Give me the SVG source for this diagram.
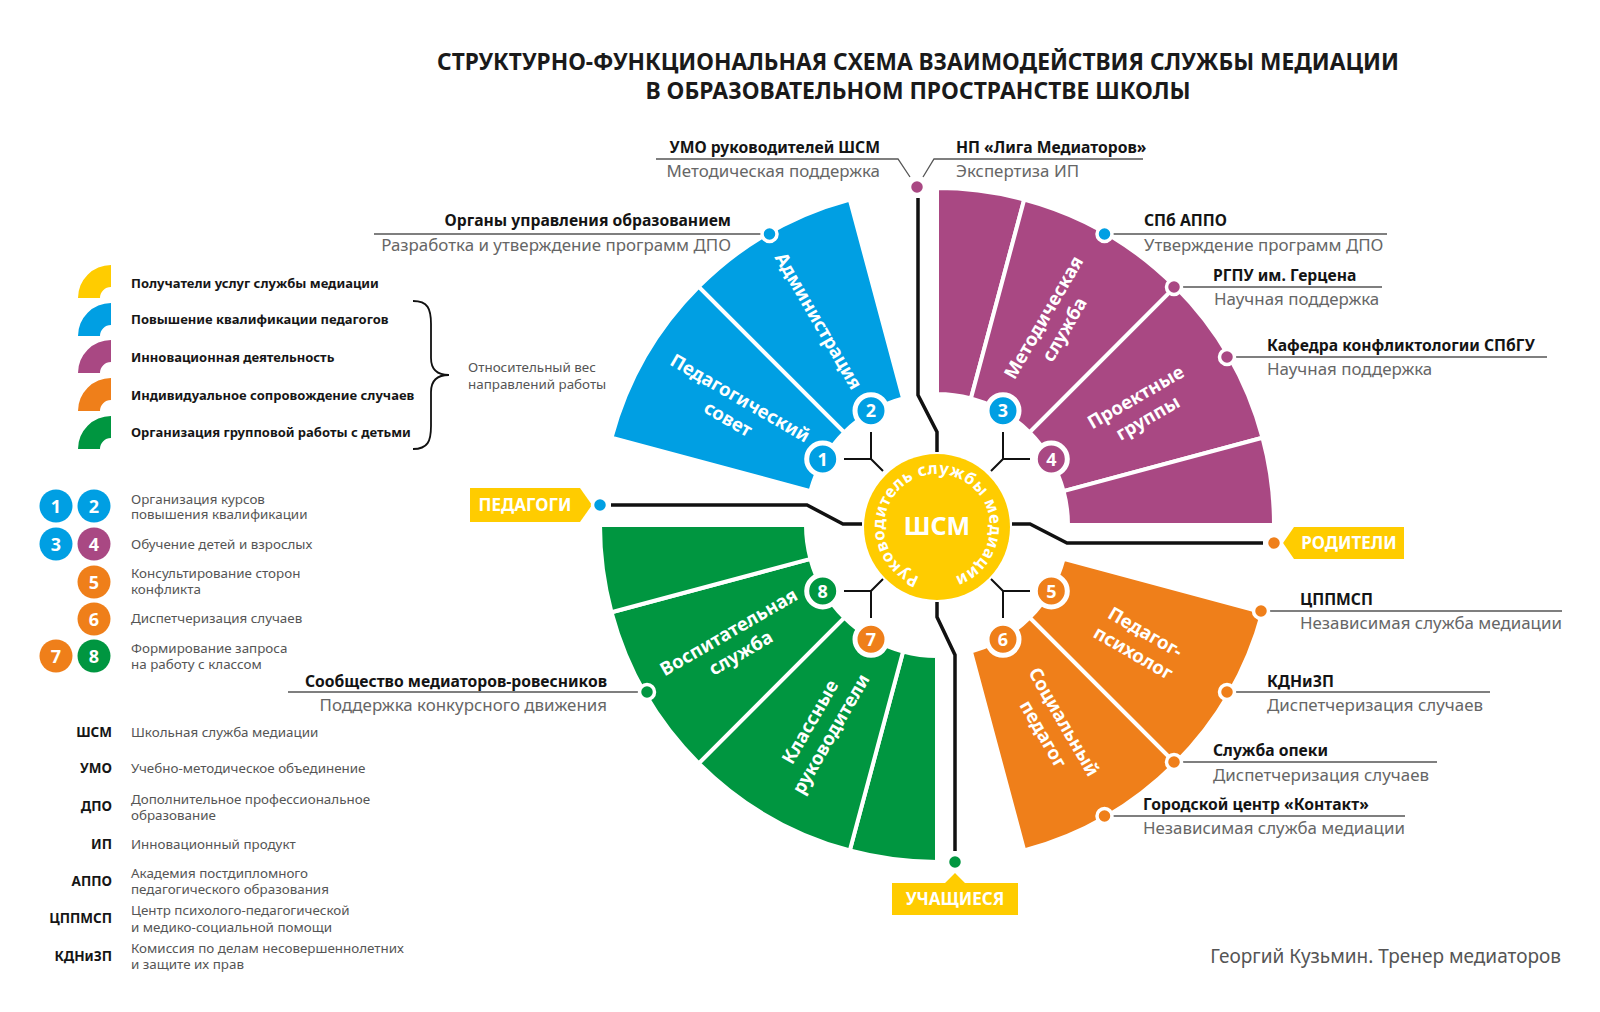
<svg xmlns="http://www.w3.org/2000/svg" xmlns:xlink="http://www.w3.org/1999/xlink" width="1600" height="1012" viewBox="0 0 1600 1012">
<defs>
<style>
text{font-family:"Noto Sans","DejaVu Sans",sans-serif}
.ttl{font-size:23px;font-weight:700;fill:#1a1a1a;text-anchor:middle}
.nm{font-size:15.7px;font-weight:700;fill:#141414}
.ds{font-size:16.9px;font-weight:400;fill:#666}
.r{text-anchor:end}
.lg{font-size:13px;font-weight:700;fill:#161616}
.lt{font-size:13.4px;font-weight:400;fill:#555}
.ab{font-size:13.5px;font-weight:700;fill:#161616;text-anchor:end}
.sl{font-size:18.5px;font-weight:700;fill:#fff;text-anchor:middle}
.tag{font-size:17px;font-weight:700;fill:#fff;text-anchor:middle}
.bn{font-size:18px;font-weight:700;fill:#fff;text-anchor:middle}
.ln{stroke:#555;stroke-width:1.3;fill:none}
.cn{stroke:#111;stroke-width:3.5;fill:none}
.yc{stroke:#111;stroke-width:2;fill:none}
.sec{stroke:#fff;stroke-width:4;stroke-linejoin:round}
.B{fill:#009FE3}.P{fill:#A94883}.O{fill:#EF7F1A}.G{fill:#009640}.Y{fill:#FFCC00}
.dot{stroke:#fff;stroke-width:3.5}
.bdg{stroke:#fff;stroke-width:5}
</style>
<path id="ring" d="M 923.28,578.19 A 53 53 0 1 1 950.72,578.19"/>
</defs>
<rect width="1600" height="1012" fill="#fff"/>

<g id="title">
<text class="ttl" x="918" y="70" textLength="962" lengthAdjust="spacingAndGlyphs">СТРУКТУРНО-ФУНКЦИОНАЛЬНАЯ СХЕМА ВЗАИМОДЕЙСТВИЯ СЛУЖБЫ МЕДИАЦИИ</text>
<text class="ttl" x="918" y="99" textLength="545" lengthAdjust="spacingAndGlyphs">В ОБРАЗОВАТЕЛЬНОМ ПРОСТРАНСТВЕ ШКОЛЫ</text>
</g>

<!-- Sectors -->
<g id="sector-pedsovet">
<path class="sec B" d="M 810.46,491.09 L 611.48,437.78 A 337 337 0 0 1 698.71,286.71 L 844.37,432.37 A 131 131 0 0 0 810.46,491.09 Z"/>
<g transform="translate(734.4,408) rotate(30)"><text class="sl" y="-5">Педагогический</text><text class="sl" y="19">совет</text></g>
</g>
<g id="sector-admin">
<path class="sec B" d="M 844.37,432.37 L 698.71,286.71 A 337 337 0 0 1 849.78,199.48 L 903.09,398.46 A 131 131 0 0 0 844.37,432.37 Z"/>
<g transform="translate(819,320.6) rotate(60)"><text class="sl" y="7">Администрация</text></g>
</g>
<g id="sector-purple-1">
<path class="sec P" d="M 937,394 L 937,188 A 337 337 0 0 1 1024.22,199.48 L 970.91,398.46 A 131 131 0 0 0 937,394 Z"/>
</g>
<g id="sector-metod">
<path class="sec P" d="M 970.91,398.46 L 1024.22,199.48 A 337 337 0 0 1 1175.29,286.71 L 1029.63,432.37 A 131 131 0 0 0 970.91,398.46 Z"/>
<g transform="translate(1053.5,323.2) rotate(-60)"><text class="sl" y="-5">Методическая</text><text class="sl" y="19">служба</text></g>
</g>
<g id="sector-project">
<path class="sec P" d="M 1029.63,432.37 L 1175.29,286.71 A 337 337 0 0 1 1262.52,437.78 L 1063.54,491.09 A 131 131 0 0 0 1029.63,432.37 Z"/>
<g transform="translate(1141.4,407) rotate(-30)"><text class="sl" y="-5">Проектные</text><text class="sl" y="19">группы</text></g>
</g>
<g id="sector-purple-4">
<path class="sec P" d="M 1063.54,491.09 L 1262.52,437.78 A 337 337 0 0 1 1274,525 L 1068,525 A 131 131 0 0 0 1063.54,491.09 Z"/>
</g>
<g id="sector-pedpsych">
<path class="sec O" d="M 1063.54,558.91 L 1262.52,612.22 A 337 337 0 0 1 1175.29,763.29 L 1029.63,617.63 A 131 131 0 0 0 1063.54,558.91 Z"/>
<g transform="translate(1139.6,642) rotate(30)"><text class="sl" y="-5">Педагог-</text><text class="sl" y="19">психолог</text></g>
</g>
<g id="sector-social">
<path class="sec O" d="M 1029.63,617.63 L 1175.29,763.29 A 337 337 0 0 1 1024.22,850.52 L 970.91,651.54 A 131 131 0 0 0 1029.63,617.63 Z"/>
<g transform="translate(1054,727.6) rotate(60)"><text class="sl" y="-5">Социальный</text><text class="sl" y="19">педагог</text></g>
</g>
<g id="sector-green-4">
<path class="sec G" d="M 937,656 L 937,862 A 337 337 0 0 1 849.78,850.52 L 903.09,651.54 A 131 131 0 0 0 937,656 Z"/>
</g>
<g id="sector-klass">
<path class="sec G" d="M 903.09,651.54 L 849.78,850.52 A 337 337 0 0 1 698.71,763.29 L 844.37,617.63 A 131 131 0 0 0 903.09,651.54 Z"/>
<g transform="translate(820,727.6) rotate(-60)"><text class="sl" y="-5">Классные</text><text class="sl" y="19">руководители</text></g>
</g>
<g id="sector-vosp">
<path class="sec G" d="M 844.37,617.63 L 698.71,763.29 A 337 337 0 0 1 611.48,612.22 L 810.46,558.91 A 131 131 0 0 0 844.37,617.63 Z"/>
<g transform="translate(734.4,642) rotate(-30)"><text class="sl" y="-5">Воспитательная</text><text class="sl" y="19">служба</text></g>
</g>
<g id="sector-green-1">
<path class="sec G" d="M 810.46,558.91 L 611.48,612.22 A 337 337 0 0 1 600,525 L 806,525 A 131 131 0 0 0 810.46,558.91 Z"/>
</g>

<!-- Connectors -->
<g id="connectors">
<path class="cn" d="M918,198 V395 L937,432 V452"/>
<path class="cn" d="M611,505 H807 L843,524 H862"/>
<path class="cn" d="M1012,524 H1030 L1067,543 H1263"/>
<path class="cn" d="M937,602 V617 L955,655 V851"/>
<path class="yc" d="M844,459 H871 M871,432 V459 L883,471"/>
<path class="yc" d="M1030,459 H1003 M1003,432 V459 L991,471"/>
<path class="yc" d="M1030,591 H1003 M1003,618 V591 L991,579"/>
<path class="yc" d="M844,591 H871 M871,618 V591 L883,579"/>
<path class="ln" d="M656,159 H898 L910,177"/>
<path class="ln" d="M1143,159 H934 L923,177"/>
</g>

<!-- Centre -->
<g id="center-shm">
<circle class="Y" cx="937" cy="527" r="73"/>
<text x="937" y="535" style="font-size:25px;font-weight:700;fill:#fff;text-anchor:middle">ШСМ</text>
<text style="font-size:16.5px;font-weight:700;fill:#fff;letter-spacing:0.5px"><textPath xlink:href="#ring" href="#ring" startOffset="50%" text-anchor="middle">Руководитель службы медиации</textPath></text>
</g>

<!-- Badges -->
<g id="badge-1"><circle class="B bdg" cx="822.7" cy="459" r="16"/><text class="bn" x="822.7" y="465.5">1</text></g>
<g id="badge-2"><circle class="B bdg" cx="871" cy="410.7" r="16"/><text class="bn" x="871" y="417.2">2</text></g>
<g id="badge-3"><circle class="B bdg" cx="1003" cy="410.7" r="16"/><text class="bn" x="1003" y="417.2">3</text></g>
<g id="badge-4"><circle class="P bdg" cx="1051.3" cy="459" r="16"/><text class="bn" x="1051.3" y="465.5">4</text></g>
<g id="badge-5"><circle class="O bdg" cx="1051.3" cy="591" r="16"/><text class="bn" x="1051.3" y="597.5">5</text></g>
<g id="badge-6"><circle class="O bdg" cx="1003" cy="639.3" r="16"/><text class="bn" x="1003" y="645.8">6</text></g>
<g id="badge-7"><circle class="O bdg" cx="871" cy="639.3" r="16"/><text class="bn" x="871" y="645.8">7</text></g>
<g id="badge-8"><circle class="G bdg" cx="822.7" cy="591" r="16"/><text class="bn" x="822.7" y="597.5">8</text></g>

<!-- Tags -->
<g id="tag-pedagogi">
<polygon class="Y" points="470,488 580,488 592,505 580,522 470,522"/>
<text class="tag" x="525" y="511">ПЕДАГОГИ</text>
<circle class="B dot" cx="600" cy="505" r="7.5"/>
</g>
<g id="tag-roditeli">
<polygon class="Y" points="1283,543 1294,527 1404,527 1404,559 1294,559"/>
<text class="tag" x="1349" y="549">РОДИТЕЛИ</text>
<circle class="O dot" cx="1274" cy="543" r="7.5"/>
</g>
<g id="tag-uchashchiesya">
<polygon class="Y" points="892,883 945,883 955,873 965,883 1018,883 1018,915 892,915"/>
<text class="tag" x="955" y="905">УЧАЩИЕСЯ</text>
<circle class="G dot" cx="955" cy="862" r="7.5"/>
</g>

<!-- External partners -->
<g id="ext-organy">
<path class="ln" d="M374,234 H762"/>
<circle class="B dot" cx="769.5" cy="234" r="7.5"/>
<text class="nm r" x="731" y="226">Органы управления образованием</text>
<text class="ds r" x="731" y="251">Разработка и утверждение программ ДПО</text>
</g>
<g id="ext-umo">
<text class="nm r" x="880" y="153">УМО руководителей ШСМ</text>
<text class="ds r" x="880" y="177">Методическая поддержка</text>
</g>
<g id="ext-np">
<circle class="P dot" cx="917" cy="187" r="7.5"/>
<text class="nm" x="956" y="153">НП «Лига Медиаторов»</text>
<text class="ds" x="956" y="177">Экспертиза ИП</text>
</g>
<g id="ext-spbappo">
<path class="ln" d="M1112,234 H1387"/>
<circle class="B dot" cx="1104.5" cy="234" r="7.5"/>
<text class="nm" x="1144" y="226">СПб АППО</text>
<text class="ds" x="1144" y="251">Утверждение программ ДПО</text>
</g>
<g id="ext-rgpu">
<path class="ln" d="M1182,287 H1382"/>
<circle class="P dot" cx="1174" cy="287" r="7.5"/>
<text class="nm" x="1213" y="281">РГПУ им. Герцена</text>
<text class="ds" x="1214" y="305">Научная поддержка</text>
</g>
<g id="ext-kafedra">
<path class="ln" d="M1235,357 H1547"/>
<circle class="P dot" cx="1227" cy="357" r="7.5"/>
<text class="nm" x="1267" y="351">Кафедра конфликтологии СПбГУ</text>
<text class="ds" x="1267" y="375">Научная поддержка</text>
</g>
<g id="ext-cppmsp">
<path class="ln" d="M1269,611 H1562"/>
<circle class="O dot" cx="1261" cy="611" r="7.5"/>
<text class="nm" x="1300" y="605">ЦППМСП</text>
<text class="ds" x="1300" y="629">Независимая служба медиации</text>
</g>
<g id="ext-kdn">
<path class="ln" d="M1235,692 H1490"/>
<circle class="O dot" cx="1227" cy="692" r="7.5"/>
<text class="nm" x="1267" y="687">КДНиЗП</text>
<text class="ds" x="1267" y="711">Диспетчеризация случаев</text>
</g>
<g id="ext-opeka">
<path class="ln" d="M1182,762 H1437"/>
<circle class="O dot" cx="1174" cy="762" r="7.5"/>
<text class="nm" x="1213" y="756">Служба опеки</text>
<text class="ds" x="1213" y="781">Диспетчеризация случаев</text>
</g>
<g id="ext-kontakt">
<path class="ln" d="M1112,816 H1405"/>
<circle class="O dot" cx="1104.5" cy="816" r="7.5"/>
<text class="nm" x="1143" y="810">Городской центр «Контакт»</text>
<text class="ds" x="1143" y="834">Независимая служба медиации</text>
</g>
<g id="ext-soobshchestvo">
<path class="ln" d="M288,692 H640"/>
<circle class="G dot" cx="647" cy="692" r="7.5"/>
<text class="nm r" x="607" y="687">Сообщество медиаторов-ровесников</text>
<text class="ds r" x="607" y="711">Поддержка конкурсного движения</text>
</g>

<!-- Legend: colours -->
<g id="legend-colors">
<path class="Y" d="M78,298 A33 33 0 0 1 111,265 L111,287 A11 11 0 0 0 100,298 Z"/>
<path class="B" d="M78,336 A33 33 0 0 1 111,303 L111,325 A11 11 0 0 0 100,336 Z"/>
<path class="P" d="M78,373 A33 33 0 0 1 111,340 L111,362 A11 11 0 0 0 100,373 Z"/>
<path class="O" d="M78,411 A33 33 0 0 1 111,378 L111,400 A11 11 0 0 0 100,411 Z"/>
<path class="G" d="M78,449 A33 33 0 0 1 111,416 L111,438 A11 11 0 0 0 100,449 Z"/>
<text class="lg" x="131" y="288">Получатели услуг службы медиации</text>
<text class="lg" x="131" y="324">Повышение квалификации педагогов</text>
<text class="lg" x="131" y="362">Инновационная деятельность</text>
<text class="lg" x="131" y="400">Индивидуальное сопровождение случаев</text>
<text class="lg" x="131" y="437">Организация групповой работы с детьми</text>
<path d="M413,301 C428,301 431,309 431,324 L431,358 C431,369 437,375 449,375 C437,375 431,381 431,392 L431,426 C431,441 428,449 413,449" stroke="#111" stroke-width="1.8" fill="none"/>
<text class="lt" x="468" y="372">Относительный вес</text>
<text class="lt" x="468" y="389">направлений работы</text>
</g>

<!-- Legend: numbers -->
<g id="legend-numbers">
<circle class="B" cx="56" cy="506" r="16.5"/><text class="bn" x="56" y="512.5">1</text>
<circle class="B" cx="94" cy="506" r="16.5"/><text class="bn" x="94" y="512.5">2</text>
<circle class="B" cx="56" cy="544" r="16.5"/><text class="bn" x="56" y="550.5">3</text>
<circle class="P" cx="94" cy="544" r="16.5"/><text class="bn" x="94" y="550.5">4</text>
<circle class="O" cx="94" cy="582" r="16.5"/><text class="bn" x="94" y="588.5">5</text>
<circle class="O" cx="94" cy="619" r="16.5"/><text class="bn" x="94" y="625.5">6</text>
<circle class="O" cx="56" cy="656" r="16.5"/><text class="bn" x="56" y="662.5">7</text>
<circle class="G" cx="94" cy="656" r="16.5"/><text class="bn" x="94" y="662.5">8</text>
<text class="lt" x="131" y="503.5">Организация курсов</text>
<text class="lt" x="131" y="519">повышения квалификации</text>
<text class="lt" x="131" y="549">Обучение детей и взрослых</text>
<text class="lt" x="131" y="577.5">Консультирование сторон</text>
<text class="lt" x="131" y="593.5">конфликта</text>
<text class="lt" x="131" y="623">Диспетчеризация случаев</text>
<text class="lt" x="131" y="652.5">Формирование запроса</text>
<text class="lt" x="131" y="668.5">на работу с классом</text>
</g>

<!-- Legend: abbreviations -->
<g id="legend-abbr">
<text class="ab" x="112" y="737">ШСМ</text><text class="lt" x="131" y="737">Школьная служба медиации</text>
<text class="ab" x="112" y="773">УМО</text><text class="lt" x="131" y="773">Учебно-методическое объединение</text>
<text class="ab" x="112" y="811">ДПО</text><text class="lt" x="131" y="803.5">Дополнительное профессиональное</text><text class="lt" x="131" y="819.5">образование</text>
<text class="ab" x="112" y="849">ИП</text><text class="lt" x="131" y="849">Инновационный продукт</text>
<text class="ab" x="112" y="886">АППО</text><text class="lt" x="131" y="877.5">Академия постдипломного</text><text class="lt" x="131" y="893.5">педагогического образования</text>
<text class="ab" x="112" y="923">ЦППМСП</text><text class="lt" x="131" y="914.5">Центр психолого-педагогической</text><text class="lt" x="131" y="931.5">и медико-социальной помощи</text>
<text class="ab" x="112" y="961">КДНиЗП</text><text class="lt" x="131" y="952.5">Комиссия по делам несовершеннолетних</text><text class="lt" x="131" y="968.5">и защите их прав</text>
</g>

<g id="footer">
<text x="1561" y="963" style="font-size:19px;fill:#555;text-anchor:end">Георгий Кузьмин. Тренер медиаторов</text>
</g>
</svg>
